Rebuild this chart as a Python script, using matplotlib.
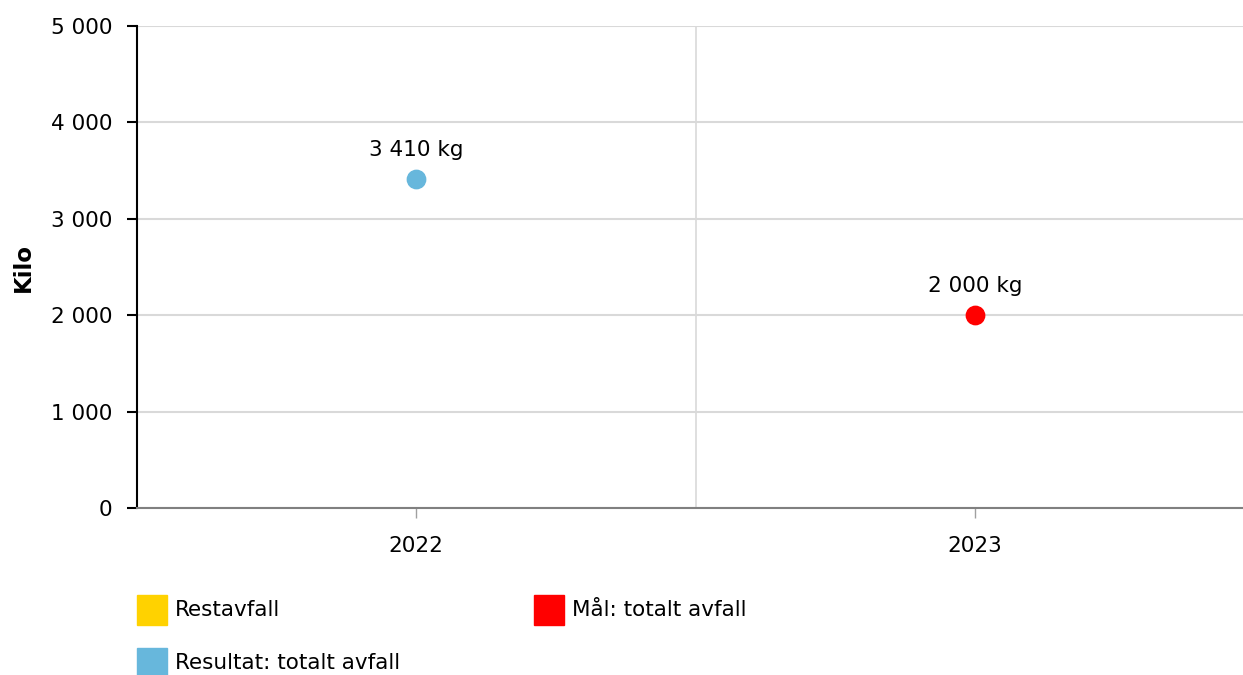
import matplotlib
matplotlib.use("Agg")
import matplotlib.pyplot as plt
from matplotlib.patches import Rectangle
from matplotlib.ticker import FuncFormatter, FixedLocator

# data
years = ["2022", "2023"]
result_values = [3410, None]      # Resultat: totalt avfall
goal_values = [None, 2000]        # Mål: totalt avfall
legend_labels = ["Restavfall", "Mål: totalt avfall", "Resultat: totalt avfall"]
legend_colors = ["#FFD200", "#FF0000", "#67B7DC"]
y_ticks = [0, 1000, 2000, 3000, 4000, 5000]

BLUE = "#67B7DC"
RED = "#FF0000"
FS = 15.5


def fmt_num(v):
    return f"{v:,.0f}".replace(",", " ")


W, H = 1243, 675
fig = plt.figure(figsize=(W / 100, H / 100), dpi=100)
ax = fig.add_axes([137 / W, (H - 508) / H, (1254 - 137) / W, 482 / H])

x = list(range(len(years)))
for vals, col in [(result_values, BLUE), (goal_values, RED)]:
    for xi, v in zip(x, vals):
        if v is None:
            continue
        ax.scatter([xi], [v], s=175, color=col, zorder=3, clip_on=False)
        ax.annotate(f"{fmt_num(v)} kg", (xi, v), xytext=(0, 21),
                    textcoords="offset points", ha="center", va="center",
                    fontsize=FS, color="black")

ax.set_xlim(-0.5, 1.5)
ax.set_ylim(0, 5000)
ax.set_xticks(x)
ax.set_xticklabels(years)
ax.xaxis.set_minor_locator(FixedLocator([0.5]))
ax.set_yticks(y_ticks)
ax.yaxis.set_major_formatter(FuncFormatter(lambda v, p: fmt_num(v)))

ax.grid(axis="y", which="major", color="#D9D9D9", lw=1.5)
ax.grid(axis="x", which="minor", color="#D9D9D9", lw=1.2)
ax.set_axisbelow(True)

for s in ["top", "right"]:
    ax.spines[s].set_visible(False)
ax.spines["left"].set_color("black")
ax.spines["left"].set_linewidth(1.5)
ax.spines["bottom"].set_color("#808080")
ax.spines["bottom"].set_linewidth(1.5)

ax.tick_params(axis="y", length=7.5, width=1.5, color="black", pad=10,
               labelsize=FS)
ax.tick_params(axis="x", which="major", length=7, width=1, color="#A0A0A0",
               pad=13, labelsize=FS)
ax.tick_params(axis="x", which="minor", length=0)

ax.set_ylabel("Kilo", fontsize=16.5, fontweight="bold", labelpad=12)

# legend, two columns, row-major
col_x = [137, 534]
row_y = [610, 663]
sq = 30
for i, (lab, colr) in enumerate(zip(legend_labels, legend_colors)):
    cx = col_x[i % 2]
    cy = row_y[i // 2]
    fig.add_artist(Rectangle(((cx) / W, (H - cy - sq / 2) / H), sq / W, sq / H,
                             transform=fig.transFigure, color=colr))
    fig.text((cx + sq + 8) / W, (H - cy) / H, lab, fontsize=FS,
             ha="left", va="center")

fig.savefig("out.png", dpi=100)
